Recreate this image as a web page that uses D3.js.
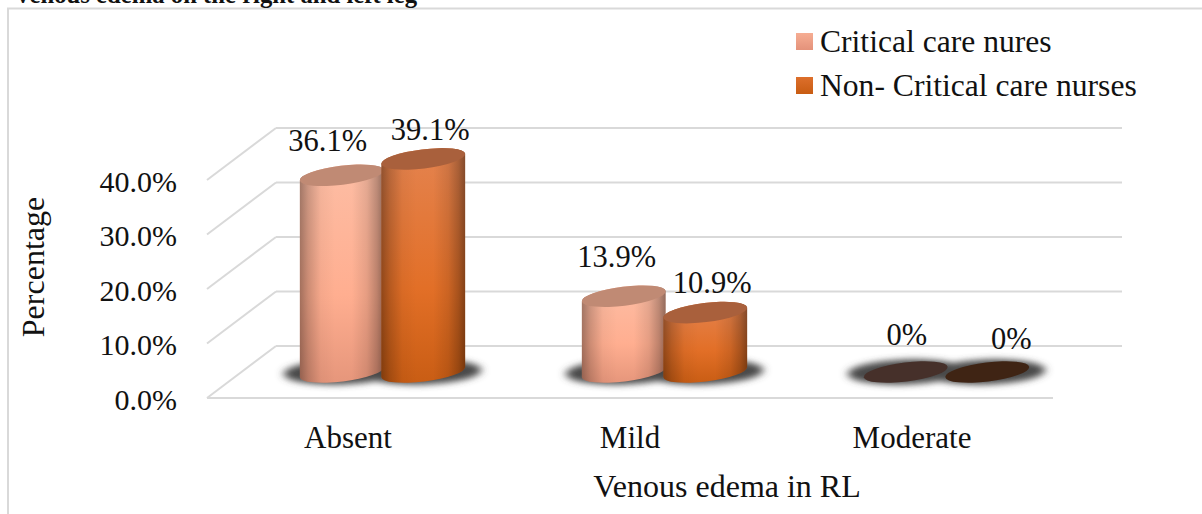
<!DOCTYPE html>
<html>
<head>
<meta charset="utf-8">
<script src="https://cdnjs.cloudflare.com/ajax/libs/d3/7.8.5/d3.min.js"></script>
<style>
  html, body { margin: 0; padding: 0; background: #fff; overflow: hidden; }
  svg { display: block; }
  text { font-family: "Liberation Serif", "Times New Roman", serif; fill: #111; }
</style>
</head>
<body>
<svg id="chart" width="1202" height="514"></svg>
<script>
// Venous edema in the right leg, by nurse group (percent)
const categories = ["Absent", "Mild", "Moderate"];
const seriesNames = ["Critical care nures", "Non- Critical care nurses"];
const criticalCare = [36.1, 13.9, 0];
const nonCriticalCare = [39.1, 10.9, 0];
const valueLabels = [["36.1%", "13.9%", "0%"], ["39.1%", "10.9%", "0%"]];
const yTicks = [0, 10, 20, 30, 40];

const seriesValues = [criticalCare, nonCriticalCare];

// Cylinder look per series
const palettes = [
  { top: "#c08a74", flat: "#46302a", stops: ["#fdbda4", "#ffae90", "#e6967b"], key: ["#f6ad93", "#e4927a"] },
  { top: "#a9603c", flat: "#3f2414", stops: ["#e4834f", "#e26f27", "#c95d14"], key: ["#dd6f2c", "#c85c12"] }
];

// Hand-placed label offsets from the cylinder's top centre, [dx, dy]
const labelOffsets = [
  [[-14, -24], [-7, -29], [1, -27]],
  [[7, -19], [7, -20], [24, -23]]
];

const svg = d3.select("#chart");
const defs = svg.append("defs");

// Oblique floor projection
const depth = { x: 69, y: -52 };
const floorMid = { x: 34.5, y: depth.y / 2 };
const rx = 42.2, ry = 9.6, tilt = -7;
const tiltRad = tilt * Math.PI / 180;

const x = d3.scaleBand().domain(categories).range([207, 1053]);
const y = d3.scaleLinear().domain([0, 40]).range([398, 180]);
const seriesX = d3.scaleBand().domain(d3.range(seriesNames.length))
  .range([-81.5, 81.5]);

// Gradients
palettes.forEach((p, i) => {
  const body = defs.append("linearGradient").attr("id", `body${i}`)
    .attr("x1", 0).attr("y1", 0).attr("x2", 0).attr("y2", 1);
  p.stops.forEach((c, k) => body.append("stop")
    .attr("offset", [0, 0.6, 1][k]).attr("stop-color", c));
  const key = defs.append("linearGradient").attr("id", `key${i}`)
    .attr("x1", 0).attr("y1", 0).attr("x2", 0).attr("y2", 1);
  p.key.forEach((c, k) => key.append("stop").attr("offset", k).attr("stop-color", c));
});
const edge = defs.append("linearGradient").attr("id", "edge")
  .attr("x1", 0).attr("y1", 0).attr("x2", 1).attr("y2", 0);
[[0, 0.36], [0.1, 0.2], [0.25, 0.04], [0.42, 0], [0.62, 0], [0.8, 0.1], [0.92, 0.26], [1, 0.42]]
  .forEach(([o, a]) => edge.append("stop").attr("offset", o)
    .attr("stop-color", "#000").attr("stop-opacity", a));
defs.append("filter").attr("id", "soft")
  .attr("x", "-30%").attr("y", "-80%").attr("width", "160%").attr("height", "260%")
  .append("feGaussianBlur").attr("stdDeviation", "4 3");

// Chart frame, open at the right and bottom
svg.append("path").attr("d", "M8,514V8.5H1202")
  .attr("fill", "none").attr("stroke", "#d9d9d9").attr("stroke-width", 2);

// Title, cut by the top edge
svg.append("text").attr("x", 14).attr("y", 2.5)
  .attr("font-size", 24.7).attr("font-weight", "bold").attr("fill", "#111")
  .text("Venous edema on the right and left leg");

// Walls and floor
const grid = svg.append("g").attr("stroke", "#d9d9d9").attr("stroke-width", 2).attr("fill", "none");
grid.selectAll(".back").data(yTicks).join("line")
  .attr("x1", x.range()[0] + depth.x).attr("x2", x.range()[1] + depth.x)
  .attr("y1", d => y(d) + depth.y).attr("y2", d => y(d) + depth.y);
grid.selectAll(".side").data(yTicks).join("line")
  .attr("x1", x.range()[0]).attr("x2", x.range()[0] + depth.x)
  .attr("y1", d => y(d)).attr("y2", d => y(d) + depth.y);
grid.append("line").attr("x1", x.range()[0]).attr("x2", x.range()[1])
  .attr("y1", y(0)).attr("y2", y(0));

// Axes
const yAxis = svg.append("g").attr("transform", "translate(177,1.5)")
  .call(d3.axisLeft(y).tickValues(yTicks).tickSize(0).tickPadding(0).tickFormat(d => d.toFixed(1) + "%"));
const xAxis = svg.append("g").attr("transform", `translate(0,${y(0)})`)
  .call(d3.axisBottom(x).tickSize(0).tickPadding(28));
[[yAxis, 30], [xAxis, 31]].forEach(([a, size]) => {
  a.select(".domain").remove();
  a.selectAll("text").attr("font-size", size).attr("font-family", '"Liberation Serif", serif').attr("fill", "#111");
});

const baseY = y(0) + floorMid.y;
const catX = c => x(c) + x.bandwidth() / 2 + floorMid.x;

const barsData = seriesValues.flatMap((vals, s) =>
  vals.map((v, c) => ({ s, c, v })));
const cylX = d => catX(categories[d.c]) + seriesX(d.s) + seriesX.bandwidth() / 2;
const topY = d => y(d.v) + floorMid.y;

// One soft shadow under each cylinder
svg.append("g").attr("filter", "url(#soft)").selectAll("ellipse").data(barsData).join("ellipse")
  .attr("cx", cylX).attr("cy", baseY)
  .attr("rx", 58).attr("ry", 12.5)
  .attr("transform", d => `rotate(-2 ${cylX(d)} ${baseY})`)
  .attr("fill", "#4a4a4a");

// Cylinders
const cylPath = d => {
  const cx = cylX(d), ex = rx * Math.cos(tiltRad), ey = -rx * Math.sin(tiltRad);
  const t = topY(d);
  return `M${cx - ex},${t + ey}L${cx - ex},${baseY + ey}` +
    `A${rx},${ry} ${tilt} 0 0 ${cx + ex},${baseY - ey}` +
    `L${cx + ex},${t - ey}A${rx},${ry} ${tilt} 0 0 ${cx - ex},${t + ey}Z`;
};

const bars = svg.append("g").selectAll("g").data(barsData).join("g");
const standing = bars.filter(d => d.v > 0);
standing.append("path").attr("d", cylPath).attr("fill", d => `url(#body${d.s})`);
standing.append("path").attr("d", cylPath).attr("fill", "url(#edge)");
bars.append("ellipse")
  .attr("rx", rx).attr("ry", ry)
  .attr("transform", d => `translate(${cylX(d)},${topY(d)}) rotate(${tilt})`)
  .attr("fill", d => d.v > 0 ? palettes[d.s].top : palettes[d.s].flat);

// Value labels
svg.append("g").selectAll("text").data(barsData).join("text")
  .attr("x", d => cylX(d) + labelOffsets[d.s][d.c][0])
  .attr("y", d => topY(d) + labelOffsets[d.s][d.c][1])
  .attr("text-anchor", "middle").attr("font-size", 30.5)
  .text(d => valueLabels[d.s][d.c]);

// Axis titles
svg.append("text").attr("transform", "translate(44,267) rotate(-90)")
  .attr("text-anchor", "middle").attr("font-size", 32).text("Percentage");
svg.append("text").attr("x", 727).attr("y", 497)
  .attr("text-anchor", "middle").attr("font-size", 32).text("Venous edema in RL");

// Legend
const legend = svg.append("g").selectAll("g").data(seriesNames).join("g")
  .attr("transform", (d, i) => `translate(796,${33 + i * 44})`);
legend.append("rect").attr("width", 17).attr("height", 17)
  .attr("fill", (d, i) => `url(#key${i})`);
legend.append("text").attr("x", 24).attr("y", 19).attr("font-size", 31.6).text(d => d);
</script>
</body>
</html>
